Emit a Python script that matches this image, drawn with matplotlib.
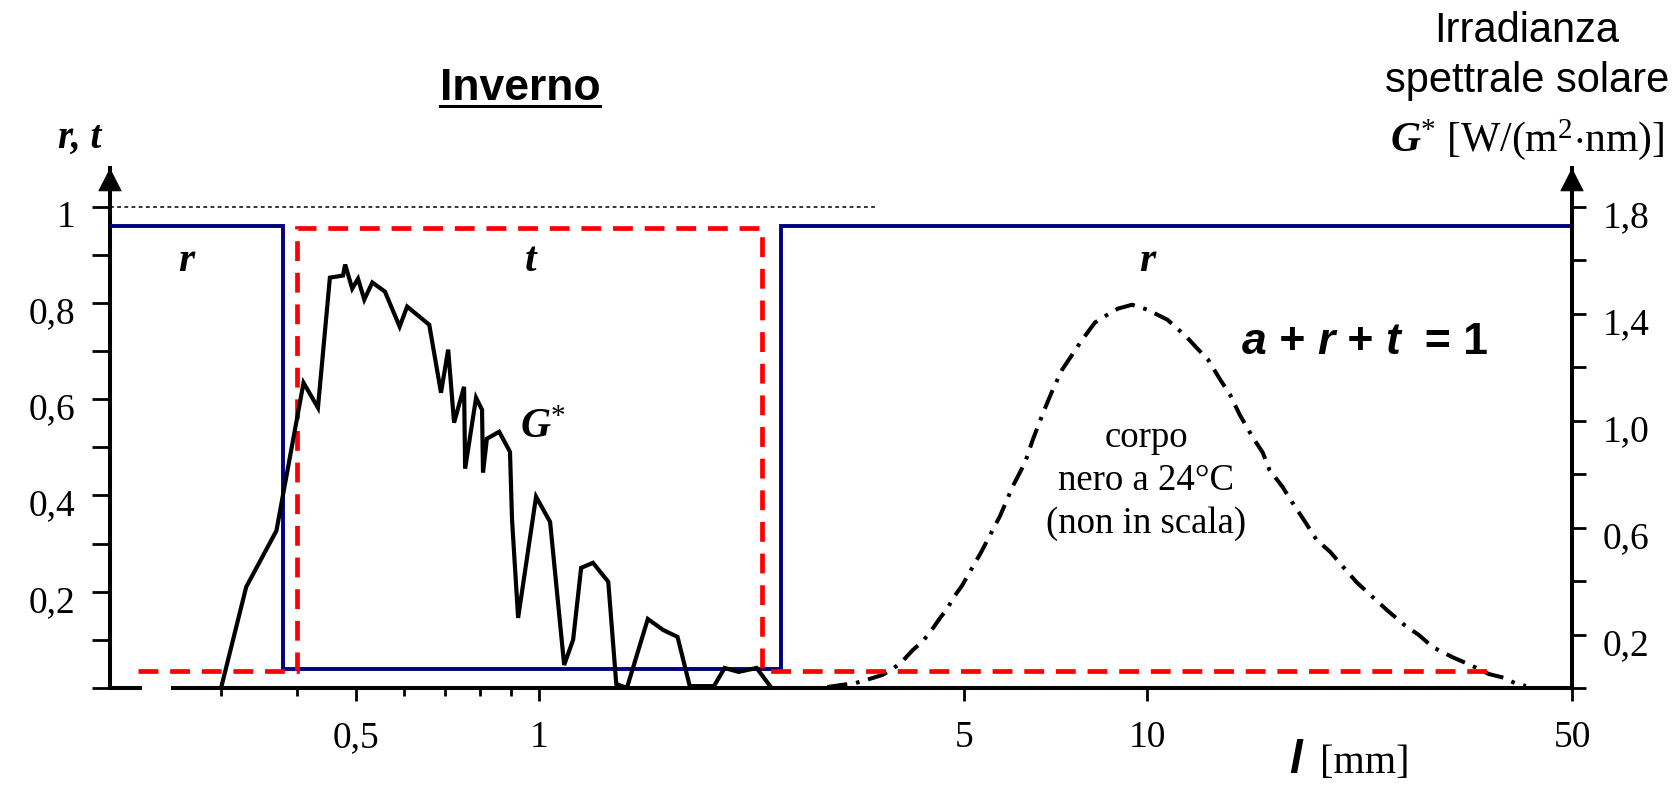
import matplotlib
matplotlib.use("Agg")
import matplotlib.pyplot as plt
from matplotlib.ticker import FixedLocator, FixedFormatter, NullFormatter
from matplotlib.lines import Line2D
import matplotlib.transforms as mtransforms

plt.rcParams['mathtext.fontset'] = 'custom'
plt.rcParams['mathtext.rm'] = 'Liberation Serif'
plt.rcParams['mathtext.it'] = 'Liberation Serif:italic'
plt.rcParams['mathtext.bf'] = 'Liberation Serif:bold'
plt.rcParams['mathtext.bfit'] = 'Liberation Serif:italic:bold'

# ---------------- data ----------------
# reflectance r (winter), wavelength in micrometres
r_x = [0.197, 0.38, 0.38, 2.5, 2.5, 49.6]
r_y = [0.96, 0.96, 0.04, 0.04, 0.96, 0.96]
# transmittance t
t_x = [0.219, 0.40, 0.40, 2.33, 2.33, 36.5]
t_y = [0.035, 0.035, 0.955, 0.955, 0.035, 0.035]
# solar spectral irradiance G* [W/(m2 nm)]
g_x = [0.30, 0.33, 0.37, 0.41, 0.433, 0.453, 0.476, 0.48, 0.493, 0.504, 0.516,
       0.532, 0.558, 0.59, 0.607, 0.66, 0.69, 0.709, 0.725, 0.753, 0.756, 0.788,
       0.806, 0.809, 0.821, 0.86, 0.896, 0.903, 0.924, 0.989, 1.043, 1.10, 1.138,
       1.173, 1.227, 1.30, 1.34, 1.395, 1.51, 1.60, 1.69, 1.77, 1.94, 2.02, 2.13,
       2.28, 2.40]
g_y = [0.0, 0.378, 0.588, 1.141, 1.048, 1.534, 1.542, 1.583, 1.493, 1.530, 1.452,
       1.516, 1.482, 1.351, 1.426, 1.358, 1.104, 1.265, 0.992, 1.126, 0.820, 1.085,
       1.040, 0.805, 0.932, 0.958, 0.883, 0.629, 0.262, 0.715, 0.621, 0.086, 0.180,
       0.449, 0.468, 0.397, 0.015, 0.0, 0.258, 0.217, 0.191, 0.007, 0.007, 0.075, 0.060,
       0.075, 0.007]
# black body at 24 C (relative, not to scale)
bb_x = [2.98, 3.13, 3.31, 3.46, 3.67, 3.82, 3.95, 4.12, 4.27, 4.40, 4.57, 4.69,
        4.80, 4.96, 5.33, 5.73, 6.02, 6.30, 6.49, 6.75, 7.0, 7.25, 7.53, 7.82, 8.21,
        8.6, 8.96, 9.45, 10.0, 10.8, 11.6, 12.1, 12.6, 13.2, 13.7, 14.2, 14.9, 15.5,
        15.9, 16.7, 17.3, 18.2, 19.0, 20.0, 22.1, 24.8, 26.5, 28.0, 29.5, 31.8, 34.0,
        36.5, 38.7, 40.3, 42.0]
bb_y = [0.002, 0.006, 0.010, 0.017, 0.027, 0.040, 0.054, 0.079, 0.096, 0.116, 0.146,
        0.164, 0.187, 0.212, 0.281, 0.357, 0.420, 0.468, 0.516, 0.572, 0.620, 0.661,
        0.692, 0.723, 0.759, 0.775, 0.788, 0.796, 0.786, 0.765, 0.730, 0.705, 0.682,
        0.640, 0.609, 0.568, 0.522, 0.489, 0.453, 0.418, 0.387, 0.345, 0.308, 0.283,
        0.220, 0.162, 0.131, 0.110, 0.085, 0.064, 0.048, 0.029, 0.021, 0.010, 0.004]
# reference line r + t = 1
one_x = [0.197, 3.6]
one_y = [1.0, 1.0]

x_major = [0.5, 1, 5, 10, 50]
x_major_labels = ['0,5', '1', '5', '10', '50']
x_minor = [0.3, 0.4, 0.6, 0.7, 0.8, 0.9]
left_ticks = [0, 0.1, 0.2, 0.3, 0.4, 0.5, 0.6, 0.7, 0.8, 0.9, 1.0]
left_labels = ['', '', '0,2', '', '0,4', '', '0,6', '', '0,8', '', '1']
right_ticks = [0, 0.2, 0.4, 0.6, 0.8, 1.0, 1.2, 1.4, 1.6, 1.8]
right_labels = ['', '0,2', '', '0,6', '', '1,0', '', '1,4', '', '1,8']

# ---------------- figure ----------------
W, H = 1681, 786
fig = plt.figure(figsize=(W / 100, H / 100), dpi=100)
def fx(px): return px / W
def fy(py): return 1 - py / H

SERIF = 'Liberation Serif'
SANS = 'Liberation Sans'

ax = fig.add_axes([fx(110), fy(688), fx(1572) - fx(110), (688 - 168) / H])
ax.set_xscale('log')
ax.set_xlim(0.197, 50)
ax.set_ylim(0, 1.08)
ax2 = ax.twinx()
ax2.set_ylim(0, 1.8 * 1.08)

for a in (ax, ax2):
    for s in a.spines.values():
        s.set_visible(False)
    a.patch.set_visible(False)
ax.spines['left'].set_visible(True)
ax.spines['left'].set_linewidth(2.9)
ax2.spines['right'].set_visible(True)
ax2.spines['right'].set_linewidth(2.9)

# x axis line with break
f1 = (142 - 110) / 1462
f2 = (171 - 110) / 1462
ax.plot([0, f1], [0, 0], transform=ax.transAxes, color='k', lw=2.9,
        clip_on=False, solid_capstyle='butt', zorder=3)
ax.plot([f2, 1], [0, 0], transform=ax.transAxes, color='k', lw=2.9,
        clip_on=False, solid_capstyle='butt', zorder=3)

# arrows on the vertical axes
for xa in (0, 1):
    ax.annotate('', xy=(xa, 1.0), xycoords='axes fraction', xytext=(xa, 0.95),
                textcoords='axes fraction', annotation_clip=False,
                arrowprops=dict(arrowstyle='-|>,head_length=0.55,head_width=0.28',
                                color='k', lw=0.5, mutation_scale=29,
                                shrinkA=0, shrinkB=0))

# ticks
ax.xaxis.set_major_locator(FixedLocator(x_major))
ax.xaxis.set_major_formatter(FixedFormatter(x_major_labels))
ax.xaxis.set_minor_locator(FixedLocator(x_minor))
ax.xaxis.set_minor_formatter(NullFormatter())
ax.tick_params(axis='x', which='major', direction='out', length=9.5, width=2.0,
               pad=14, labelsize=27)
ax.tick_params(axis='x', which='minor', direction='out', length=6, width=2.0)
ax.yaxis.set_major_locator(FixedLocator(left_ticks))
ax.yaxis.set_major_formatter(FixedFormatter(left_labels))
ax.tick_params(axis='y', which='major', direction='out', length=13, width=2.0,
               pad=12, labelsize=27)
ax2.yaxis.set_major_locator(FixedLocator(right_ticks))
ax2.yaxis.set_major_formatter(FixedFormatter(right_labels))
ax2.tick_params(axis='y', which='major', direction='out', length=10, width=2.0,
                pad=12, labelsize=27)
ax2.tick_params(axis='x', which='both', bottom=False, labelbottom=False)

# ---------------- series ----------------
ax.plot(one_x, one_y, color='k', lw=1.1, linestyle=(0, (2.5, 2.2)), zorder=2)
ax.plot(bb_x, bb_y, color='k', lw=2.9, linestyle=(0, (5, 2.2, 0.9, 2.2)),
        dash_capstyle='butt', zorder=2)
ax2.plot(g_x, g_y, color='k', lw=3.0, solid_joinstyle='miter', zorder=2)
ax.plot(r_x, r_y, color='#000080', lw=2.8, solid_joinstyle='miter', zorder=4)
ax.plot(t_x, t_y, color='#FF0000', lw=3.4, linestyle=(0, (4.2, 2.5)),
        dash_joinstyle='miter', zorder=5)

# ---------------- texts ----------------
t_inv = fig.text(fx(520), fy(100), 'Inverno', ha='center', va='baseline',
                 fontsize=32, fontweight='bold', family=SANS)
fig.text(fx(80), fy(148), 'r, t', ha='center', va='baseline', fontsize=28,
         fontweight='bold', style='italic', family=SERIF)
fig.text(fx(186), fy(271), 'r', ha='center', va='baseline', fontsize=30,
         fontweight='bold', style='italic', family=SERIF)
fig.text(fx(531), fy(271), 't', ha='center', va='baseline', fontsize=30,
         fontweight='bold', style='italic', family=SERIF)
fig.text(fx(1147), fy(271), 'r', ha='center', va='baseline', fontsize=30,
         fontweight='bold', style='italic', family=SERIF)
fig.text(fx(520), fy(438), r'$\mathbfit{G}^{*}$', ha='left', va='baseline',
         fontsize=30, family=SERIF)

# a + r + t = 1 : italic letters, upright operators
eq_pieces = [('a', 'italic'), (' + ', 'normal'), ('r', 'italic'), (' + ', 'normal'),
             ('t', 'italic'), ('  = 1', 'normal')]
eq_texts = []
for txt, sty in eq_pieces:
    eq_texts.append(fig.text(fx(1242), fy(354), txt, ha='left', va='baseline',
                             fontsize=32, fontweight='bold', style=sty,
                             family=SANS))

fig.text(fx(1146), fy(447), 'corpo', ha='center', va='baseline', fontsize=26.5,
         family=SERIF)
fig.text(fx(1146), fy(490), 'nero a 24°C', ha='center', va='baseline',
         fontsize=26.5, family=SERIF)
fig.text(fx(1146), fy(533), '(non in scala)', ha='center', va='baseline',
         fontsize=26.5, family=SERIF)
fig.text(fx(1527), fy(42), 'Irradianza', ha='center', va='baseline', fontsize=30,
         family=SANS)
fig.text(fx(1527), fy(92), 'spettrale solare', ha='center', va='baseline',
         fontsize=30, family=SANS)
fig.text(fx(1527), fy(151), r'$\mathbfit{G}^{*}$ [W/(m$^{2}$$\cdot$nm)]',
         ha='center', va='baseline', fontsize=30, family=SERIF)
fig.text(fx(1296), fy(773), 'l', ha='center', va='baseline', fontsize=33,
         fontweight='bold', style='italic', family=SANS)
fig.text(fx(1320), fy(773), '[mm]', ha='left', va='baseline', fontsize=29,
         family=SERIF)

fig.canvas.draw()
renderer = fig.canvas.get_renderer()

# place the equation pieces one after another on a common baseline
x_cur = eq_texts[0].get_window_extent(renderer).x1
for t in eq_texts[1:]:
    t.set_position((x_cur / W, fy(354)))
    x_cur = t.get_window_extent(renderer).x1

# tick label fonts and a small downward shift of the vertical-axis labels
shift = mtransforms.ScaledTranslation(0, -5 / 72, fig.dpi_scale_trans)
for tk in ax.xaxis.get_major_ticks():
    tk.label1.set_fontfamily(SERIF)
for tk in ax.yaxis.get_major_ticks():
    tk.label1.set_fontfamily(SERIF)
    tk.label1.set_transform(tk.label1.get_transform() + shift)
for tk in ax2.yaxis.get_major_ticks():
    tk.label2.set_fontfamily(SERIF)
    tk.label2.set_transform(tk.label2.get_transform() + shift)

# underline for the title
bb = t_inv.get_window_extent(renderer)
fig.add_artist(Line2D([bb.x0 / W, bb.x1 / W], [fy(106), fy(106)],
                      transform=fig.transFigure, color='k', lw=2.2))

fig.savefig('out.png', dpi=100)
